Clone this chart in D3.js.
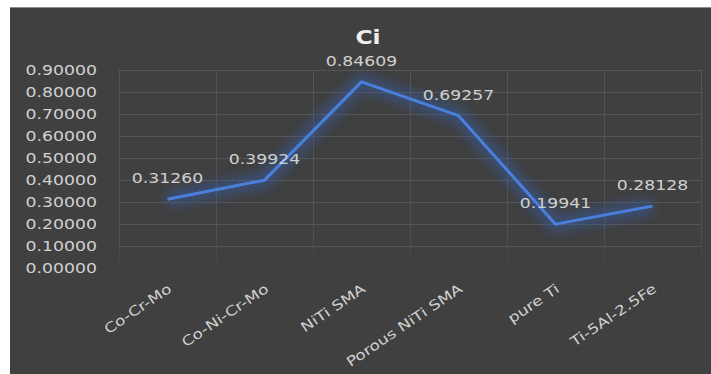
<!DOCTYPE html>
<html>
<head>
<meta charset="utf-8">
<script src="https://cdn.jsdelivr.net/npm/d3@7"></script>
<style>
  body { margin: 0; background: #fff; }
  text { font-family: "DejaVu Sans", sans-serif; }
</style>
</head>
<body>
<div id="chart"></div>
<script>
var categories = ['Co-Cr-Mo', 'Co-Ni-Cr-Mo', 'NiTi SMA', 'Porous NiTi SMA', 'pure Ti', 'Ti-5Al-2.5Fe'];
var values = [0.31260, 0.39924, 0.84609, 0.69257, 0.19941, 0.28128];
var yTicks = [0, 0.1, 0.2, 0.3, 0.4, 0.5, 0.6, 0.7, 0.8, 0.9];

var width = 711, height = 374;
var plotLeft = 119, plotRight = 701, plotTop = 70, plotBottom = 268;
var stretch = 1.3;

var svg = d3.select('#chart').append('svg')
	.attr('width', width)
	.attr('height', height);

var defs = svg.append('defs');
var glow = defs.append('filter').attr('id', 'glow')
	.attr('x', '-20%').attr('y', '-20%').attr('width', '140%').attr('height', '140%');
glow.append('feGaussianBlur').attr('in', 'SourceGraphic').attr('stdDeviation', 6);
var fade = defs.append('linearGradient').attr('id', 'fade')
	.attr('x1', 0).attr('y1', 0).attr('x2', 0).attr('y2', 1);
fade.append('stop').attr('offset', '0%').attr('stop-color', '#555555');
fade.append('stop').attr('offset', '85%').attr('stop-color', '#515151');
fade.append('stop').attr('offset', '100%').attr('stop-color', '#404040');

// panel
svg.append('rect')
	.attr('x', 10).attr('y', 7)
	.attr('width', width - 10).attr('height', height - 7)
	.style('fill', '#404040');
svg.append('line')
	.attr('x1', 10).attr('x2', width).attr('y1', 7.5).attr('y2', 7.5)
	.style('stroke', '#8a8a8a');

var x = d3.scaleBand().domain(categories).range([plotLeft, plotRight]);
var y = d3.scaleLinear().domain([0, 0.9]).range([plotBottom, plotTop]);

// grid
svg.append('g').selectAll('line')
	.data(yTicks.slice(1))
	.enter().append('line')
	.attr('x1', plotLeft).attr('x2', plotRight)
	.attr('y1', d => Math.round(y(d)) + 0.5)
	.attr('y2', d => Math.round(y(d)) + 0.5)
	.style('stroke', '#555555');
var vgrid = categories.map(c => x(c)).concat([plotRight]);
svg.append('g').selectAll('rect')
	.data(vgrid)
	.enter().append('rect')
	.attr('x', d => Math.round(d))
	.attr('y', plotTop)
	.attr('width', 1)
	.attr('height', plotBottom - plotTop)
	.style('fill', 'url(#fade)');

// y axis labels
svg.append('g').selectAll('text')
	.data(yTicks)
	.enter().append('text')
	.attr('transform', d => 'translate(97,' + (y(d) + 5) + ') scale(' + stretch + ',1)')
	.attr('text-anchor', 'end')
	.style('font-size', '13.3px')
	.style('fill', '#d0d0d0')
	.text(d => d3.format('.5f')(d));

// x axis labels
svg.append('g').selectAll('text')
	.data(categories)
	.enter().append('text')
	.attr('transform', d => 'translate(' + (x(d) + x.bandwidth() / 2 + 5) + ',291) rotate(-34) scale(1.25,1)')
	.attr('text-anchor', 'end')
	.style('font-size', '13.6px')
	.style('fill', '#d0d0d0')
	.text(d => d);

// line
var line = d3.line()
	.x((d, i) => x(categories[i]) + x.bandwidth() / 2)
	.y(d => y(d));
svg.append('path')
	.attr('d', line(values))
	.style('fill', 'none')
	.style('stroke', '#2f5fb8')
	.style('stroke-width', 14)
	.style('stroke-opacity', 0.5)
	.style('stroke-linejoin', 'round')
	.attr('filter', 'url(#glow)');
svg.append('path')
	.attr('d', line(values))
	.style('fill', 'none')
	.style('stroke', '#4a7fdc')
	.style('stroke-width', 3)
	.style('stroke-linejoin', 'round');

// data labels
svg.append('g').selectAll('text')
	.data(values)
	.enter().append('text')
	.attr('transform', (d, i) => 'translate(' + (x(categories[i]) + x.bandwidth() / 2) + ',' + (y(d) - 16) + ') scale(' + stretch + ',1)')
	.attr('text-anchor', 'middle')
	.style('font-size', '13.3px')
	.style('fill', '#d0d0d0')
	.text(d => d3.format('.5f')(d));

// title
svg.append('text')
	.attr('transform', 'translate(368,44) scale(1.2,1)')
	.attr('text-anchor', 'middle')
	.style('font-size', '19.5px')
	.style('font-weight', 'bold')
	.style('fill', '#eeeeee')
	.text('Ci');
</script>
</body>
</html>
